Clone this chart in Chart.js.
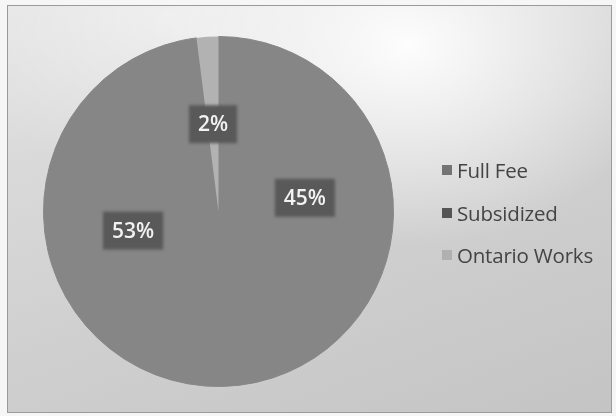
<!DOCTYPE html>
<html>
<head>
<meta charset="utf-8">
<script src="https://cdn.jsdelivr.net/npm/chart.js@4/dist/chart.umd.min.js"></script>
<style>
  html, body { margin: 0; padding: 0; background: #f6f6f6; }
  #wrap { position: relative; width: 616px; height: 416px; overflow: hidden; }
  #frame {
    position: absolute; left: 7px; top: 5px; width: 603px; height: 406px;
    border: 1px solid #9a9a9a;
    background:
      radial-gradient(ellipse 260px 200px at 400px 40px, rgba(255,255,255,0.95), rgba(255,255,255,0) 100%),
      radial-gradient(ellipse 260px 160px at 160px 10px, rgba(255,255,255,0.5), rgba(255,255,255,0) 100%),
      linear-gradient(160deg, #e2e2e2 0%, #d0d0d0 55%, #c4c4c4 100%);
  }
  canvas { position: absolute; left: 0; top: 0; }
  #legend {
    position: absolute; left: 442px; top: 156px;
    font-family: "Open Sans", "Liberation Sans", sans-serif; font-size: 20.5px; color: #444444;
    letter-spacing: -0.2px;
  }
  .item { height: 42.5px; display: flex; align-items: flex-start; white-space: nowrap; }
  .box { width: 10px; height: 10px; margin-right: 5px; margin-top: 9px; }
</style>
</head>
<body>
<div id="wrap">
  <div id="frame"></div>
  <canvas id="c" width="616" height="416"></canvas>
  <div id="legend"></div>
</div>
<script>
// Enrolment by fee type (percent of children)
const categories = ["Full Fee", "Subsidized", "Ontario Works"];
const shares = [45, 53, 2];
const sliceColors = ["#868686", "#868686", "#b2b2b2"];
const markerColors = ["#747474", "#555555", "#b0b0b0"];

// Percentage labels in dark boxes at the middle of each slice
const sliceLabels = {
  id: "sliceLabels",
  afterDatasetsDraw(chart) {
    const ctx = chart.ctx;
    const meta = chart.getDatasetMeta(0);
    const values = chart.data.datasets[0].data;
    ctx.save();
    ctx.font = "600 21px 'Open Sans', 'Liberation Sans', sans-serif";
    ctx.textAlign = "center";
    ctx.textBaseline = "middle";
    meta.data.forEach((arc, i) => {
      const p = arc.getCenterPoint();
      const text = values[i] + "%";
      const w = ctx.measureText(text).width + 18;
      const h = 38;
      ctx.filter = "blur(1.5px)";
      ctx.fillStyle = "#595959";
      ctx.fillRect(p.x - w / 2, p.y - h / 2, w, h);
      ctx.filter = "none";
      ctx.fillStyle = "#f2f2f2";
      ctx.fillText(text, p.x, p.y + 1);
    });
    ctx.restore();
  }
};

new Chart(document.getElementById("c"), {
  type: "pie",
  data: {
    labels: categories,
    datasets: [{
      data: shares,
      backgroundColor: sliceColors,
      borderColor: sliceColors,
      borderWidth: [1, 1, 0]
    }]
  },
  options: {
    responsive: false,
    animation: false,
    layout: { padding: { left: 43, top: 36, right: 222, bottom: 29 } },
    plugins: { legend: { display: false }, tooltip: { enabled: false } }
  },
  plugins: [sliceLabels]
});

const legend = document.getElementById("legend");
categories.forEach((name, i) => {
  const row = document.createElement("div");
  row.className = "item";
  const box = document.createElement("span");
  box.className = "box";
  box.style.background = markerColors[i];
  const label = document.createElement("span");
  label.textContent = name;
  row.appendChild(box);
  row.appendChild(label);
  legend.appendChild(row);
});
</script>
</body>
</html>
